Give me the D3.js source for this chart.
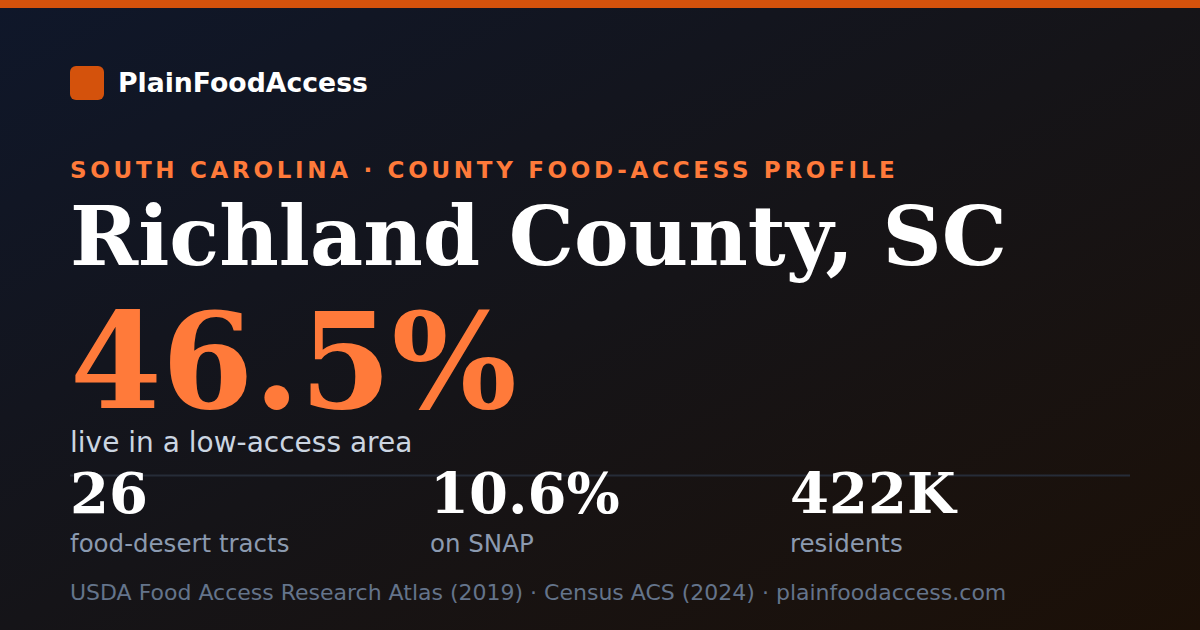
<!DOCTYPE html>
<html lang="en">
<head>
<meta charset="UTF-8">
<title>Richland County, SC</title>
<script src="https://d3js.org/d3.v7.min.js"></script>
<style>
    html, body { margin: 0; padding: 0; background: #111; }
    svg { display: block; }
    .sans { font-family: "DejaVu Sans", sans-serif; }
    .serif { font-family: "DejaVu Serif", serif; font-weight: bold; }
</style>
</head>
<body>
<div id="card"></div>
<script>
    // card text / values
    const brand = "PlainFoodAccess";
    const eyebrow = "SOUTH CAROLINA · COUNTY FOOD-ACCESS PROFILE";
    const county = "Richland County, SC";
    const headlineValue = 46.5;
    const headlineLabel = "live in a low-access area";
    const statValues = ["26", "10.6%", "422K"];
    const statLabels = ["food-desert tracts", "on SNAP", "residents"];
    const sources = ["USDA Food Access Research Atlas (2019)", "Census ACS (2024)", "plainfoodaccess.com"];

    const width = 1200, height = 630;
    const svg = d3.select("#card").append("svg")
        .attr("width", width)
        .attr("height", height);

    // background gradient
    const defs = svg.append("defs");
    const grad = defs.append("linearGradient")
        .attr("id", "bg")
        .attr("x1", "0").attr("y1", "0")
        .attr("x2", "1").attr("y2", "1");
    grad.append("stop").attr("offset", "0%").attr("stop-color", "#0f172a");
    grad.append("stop").attr("offset", "50%").attr("stop-color", "#151418");
    grad.append("stop").attr("offset", "100%").attr("stop-color", "#1c1007");

    svg.append("rect").attr("width", width).attr("height", height).attr("fill", "url(#bg)");
    svg.append("rect").attr("width", width).attr("height", 8).attr("fill", "#d4520c");

    // logo
    svg.append("rect")
        .attr("x", 70).attr("y", 66)
        .attr("width", 34).attr("height", 34)
        .attr("rx", 6)
        .attr("fill", "#d4520c");
    svg.append("text")
        .attr("class", "sans")
        .attr("x", 118).attr("y", 92)
        .attr("font-size", 26.7).attr("font-weight", "bold")
        .attr("fill", "#ffffff")
        .text(brand);

    // eyebrow + title
    svg.append("text")
        .attr("class", "sans")
        .attr("x", 70).attr("y", 178)
        .attr("font-size", 23).attr("font-weight", "bold")
        .attr("letter-spacing", 3.7)
        .attr("fill", "#ff7a3a")
        .text(eyebrow);
    svg.append("text")
        .attr("class", "serif")
        .attr("x", 70).attr("y", 265)
        .attr("font-size", 82)
        .attr("fill", "#ffffff")
        .text(county);

    // headline number
    const pct = d3.format(".1f");
    svg.append("text")
        .attr("class", "serif")
        .attr("x", 70).attr("y", 408)
        .attr("font-size", 132)
        .attr("fill", "#ff7a3a")
        .text(pct(headlineValue) + "%");
    svg.append("text")
        .attr("class", "sans")
        .attr("x", 70).attr("y", 452)
        .attr("font-size", 28)
        .attr("fill", "#cbd5e1")
        .text(headlineLabel);

    // divider
    svg.append("line")
        .attr("x1", 70).attr("x2", 1130)
        .attr("y1", 475.5).attr("y2", 475.5)
        .attr("stroke", "#262c38").attr("stroke-width", 2);

    // stat columns
    const x = d3.scalePoint()
        .domain(d3.range(statValues.length))
        .range([70, 790]);

    const stat = svg.append("g")
        .selectAll("g")
        .data(statValues.map((v, i) => ({ value: v, label: statLabels[i], i: i })))
        .enter().append("g")
        .attr("transform", d => `translate(${x(d.i)},0)`);

    stat.append("text")
        .attr("class", "serif")
        .attr("y", 513)
        .attr("font-size", 56)
        .attr("fill", "#ffffff")
        .text(d => d.value);
    stat.append("text")
        .attr("class", "sans")
        .attr("y", 552)
        .attr("font-size", 24.5)
        .attr("fill", "#8b9ab0")
        .text(d => d.label);

    // footer
    svg.append("text")
        .attr("class", "sans")
        .attr("x", 70).attr("y", 600)
        .attr("font-size", 22)
        .attr("fill", "#64748b")
        .text(sources.join(" · "));
</script>
</body>
</html>
